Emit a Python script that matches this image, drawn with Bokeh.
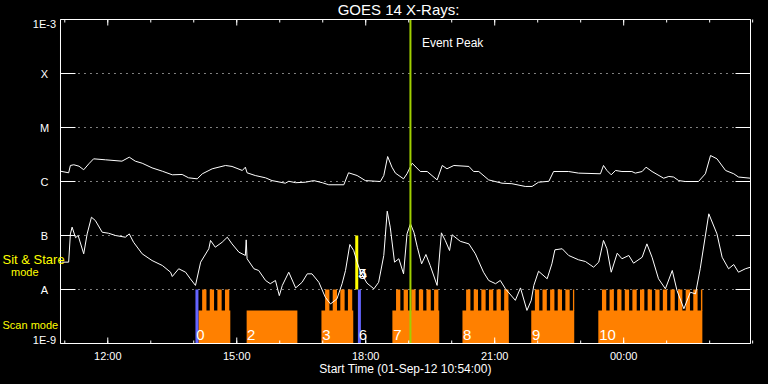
from bokeh.plotting import figure
from bokeh.models import Range1d, Label
from bokeh.embed import file_html
from bokeh.resources import INLINE

# ---------------- data (elapsed hours since 01-Sep-12 10:54:00) ----------------
long_t = [0.00, 0.19, 0.23, 0.31, 0.43, 0.54, 0.66, 0.77, 1.05, 1.43,
          1.60, 1.74, 1.90, 2.13, 2.37, 2.60, 2.83, 2.98, 3.18, 3.30,
          3.53, 3.84, 3.99, 4.23, 4.30, 4.34, 4.53, 4.77, 4.92, 5.23,
          5.31, 5.47, 5.70, 5.89, 6.09, 6.24, 6.59, 6.70, 6.90, 7.09,
          7.44, 7.52, 7.61, 7.71, 7.79, 7.98, 8.06, 8.18, 8.37, 8.53,
          8.76, 8.88, 8.99, 9.15, 9.50, 9.61, 9.73, 9.96, 10.27, 10.50,
          10.81, 10.97, 11.12, 11.36, 11.47, 11.82, 12.05, 12.56, 12.63, 12.71,
          12.81, 12.91, 13.06, 13.29, 13.37, 13.53, 13.62, 13.76, 14.03, 14.15,
          14.26, 14.38, 14.53, 14.84, 15.00, 15.12, 15.27, 15.47, 15.66, 15.77,
          16.05]
long_flux = [1.55e-6, 1.45e-6, 1.98e-6, 2.04e-6, 1.92e-6, 1.65e-6, 2.13e-6, 2.63e-6, 2.52e-6, 2.38e-6,
             2.82e-6, 2.38e-6, 2.18e-6, 1.79e-6, 1.55e-6, 1.33e-6, 1.35e-6, 1.17e-6, 1.12e-6, 1.39e-6,
             1.72e-6, 1.98e-6, 1.90e-6, 1.60e-6, 1.84e-6, 1.45e-6, 1.29e-6, 1.17e-6, 1.04e-6, 9.3e-7,
             1.01e-6, 9.5e-7, 9.7e-7, 1.04e-6, 9.5e-7, 8.7e-7, 8.7e-7, 1.45e-6, 1.29e-6, 1.04e-6,
             1.0e-6, 1.29e-6, 2.90e-6, 1.84e-6, 1.43e-6, 1.12e-6, 1.39e-6, 2.18e-6, 1.53e-6, 1.53e-6,
             1.07e-6, 1.98e-6, 1.72e-6, 1.98e-6, 1.90e-6, 1.53e-6, 1.53e-6, 1.07e-6, 9.3e-7, 9.1e-7,
             8.1e-7, 8.1e-7, 9.7e-7, 1.01e-6, 1.53e-6, 1.53e-6, 1.43e-6, 1.39e-6, 1.98e-6, 1.60e-6,
             1.33e-6, 1.60e-6, 1.53e-6, 1.53e-6, 1.43e-6, 1.53e-6, 1.84e-6, 1.53e-6, 1.15e-6, 1.24e-6,
             1.21e-6, 1.04e-6, 1.0e-6, 1.0e-6, 1.39e-6, 3.03e-6, 2.63e-6, 1.60e-6, 1.39e-6, 1.21e-6,
             1.15e-6]

short_t = [0.02, 0.19, 0.23, 0.27, 0.35, 0.41, 0.54, 0.62, 0.72, 0.81,
           0.97, 1.12, 1.28, 1.51, 1.60, 1.70, 1.90, 2.13, 2.37, 2.56,
           2.60, 2.75, 2.91, 3.02, 3.14, 3.26, 3.45, 3.49, 3.60, 3.76,
           3.88, 3.99, 4.15, 4.30, 4.32, 4.34, 4.50, 4.61, 4.77, 4.88,
           5.00, 5.09, 5.16, 5.31, 5.47, 5.62, 5.74, 5.85, 6.01, 6.16,
           6.28, 6.43, 6.55, 6.63, 6.73, 6.82, 6.90, 6.98, 7.13, 7.29,
           7.40, 7.52, 7.60, 7.67, 7.77, 7.87, 7.98, 8.06, 8.14, 8.22,
           8.30, 8.40, 8.50, 8.60, 8.76, 8.86, 8.95, 9.05, 9.11, 9.30,
           9.50, 9.65, 9.84, 9.96, 10.12, 10.23, 10.35, 10.58, 10.70, 10.85,
           10.95, 11.01, 11.12, 11.32, 11.43, 11.50, 11.67, 11.82, 12.05, 12.21,
           12.40, 12.52, 12.63, 12.71, 12.81, 12.95, 13.06, 13.22, 13.33, 13.53,
           13.64, 13.76, 13.91, 14.07, 14.23, 14.34, 14.50, 14.65, 14.77, 14.88,
           15.08, 15.27, 15.39, 15.54, 15.66, 15.77, 15.93, 16.05]
short_flux = [3.21e-8, 3.21e-8, 1.07e-7, 1.43e-7, 9.1e-8, 1.0e-7, 4.58e-8, 1.07e-7, 2.18e-7, 1.90e-7,
              1.15e-7, 1.10e-7, 1.0e-7, 9.3e-8, 1.07e-7, 7.5e-8, 4.58e-8, 3.44e-8, 2.78e-8, 2.09e-8,
              1.74e-8, 2.42e-8, 2.09e-8, 1.58e-8, 1.19e-8, 3.21e-8, 5.68e-8, 8.1e-8, 6.07e-8, 7.5e-8,
              9.3e-8, 7.0e-8, 4.91e-8, 4.27e-8, 8.3e-8, 3.71e-8, 2.42e-8, 2.25e-8, 1.47e-8, 1.28e-8,
              1.47e-8, 7.7e-9, 1.19e-8, 2.09e-8, 1.07e-8, 1.36e-8, 1.95e-8, 1.95e-8, 1.36e-8, 7.2e-9,
              5.4e-9, 6.7e-9, 1.28e-8, 2.25e-8, 6.81e-8, 5.27e-8, 3.21e-8, 2.09e-8, 1.31e-8, 1.03e-8,
              1.36e-8, 4.27e-8, 2.82e-7, 1.43e-7, 3.21e-8, 3.71e-8, 1.95e-8, 1.07e-7, 1.65e-7, 1.15e-7,
              6.07e-8, 2.99e-8, 4.45e-8, 2.78e-8, 1.19e-8, 1.12e-7, 8.1e-8, 5.27e-8, 1.03e-7, 7.8e-8,
              7.0e-8, 4.58e-8, 2.09e-8, 1.47e-8, 1.28e-8, 1.47e-8, 1.03e-8, 6.3e-9, 1.07e-8, 4.1e-9,
              6.3e-9, 1.19e-8, 2.18e-8, 1.58e-8, 2.99e-8, 5.43e-8, 5.68e-8, 4.27e-8, 3.55e-8, 3.30e-8,
              2.59e-8, 3.21e-8, 8.1e-8, 5.68e-8, 2.09e-8, 4.70e-8, 3.71e-8, 4.27e-8, 3.07e-8, 3.96e-8,
              7.0e-8, 3.96e-8, 1.58e-8, 1.03e-8, 2.25e-8, 9.6e-9, 4.4e-9, 8.9e-9, 8.3e-9, 2.42e-8,
              2.52e-7, 1.07e-7, 3.96e-8, 2.42e-8, 2.90e-8, 2.09e-8, 2.42e-8, 2.59e-8]

# scan-mode rasters (with teeth) and the plain scan block
scan_start = [3.21, 6.07, 7.72, 9.35, 10.95, 12.51]
scan_end = [3.95, 6.81, 8.81, 10.43, 11.95, 14.93]
plain_start = [4.33]
plain_end = [5.51]
tooth_gap = 0.085
tooth_period = 0.177
tooth_width = 0.10

scan_labels = ["0", "2", "3", "6", "7", "8", "9", "10"]
scan_label_t = [3.16, 4.34, 6.09, 6.94, 7.74, 9.36, 10.97, 12.53]
stare_labels = ["4", "5"]
stare_label_t = 6.93

blue_t = [3.174, 6.953]
yellow_t = [6.891]
peak_t = 8.14

x_major = [1.1, 4.1, 7.1, 10.1, 13.1]
x_minor = [0.1 + k for k in range(17)]
x_tick_labels = ["12:00", "15:00", "18:00", "21:00", "00:00"]
y_ticks = [1e-9, 1e-8, 1e-7, 1e-6, 1e-5, 1e-4, 1e-3]
y_tick_labels = ["1E-9", "A", "B", "C", "M", "X", "1E-3"]

# ---------------- layout constants ----------------
T0, T1 = 0.0, 16.05          # time span of the plot box (hours)
Y0, Y1 = 1e-9, 1e-3          # flux span of the plot box
PXH = 43.0                   # pixels per hour
PXD = 54.0                   # pixels per decade
PAD_L, PAD_R, PAD_T, PAD_B = 60, 18, 19, 41
BASE_FIX = 0.33              # text baseline correction (fraction of font size)

def dx(px):                  # pixel length -> hours
    return px / PXH

def fy(v, px):               # move a flux value by px pixels (up = +)
    return v * 10 ** (px / PXD)

FONT = "Liberation Sans"
ORANGE = "#ff8000"
W = "white"

p = figure(width=768, height=384, output_backend="svg", toolbar_location=None,
           x_range=Range1d(T0 - dx(PAD_L), T1 + dx(PAD_R)),
           y_range=Range1d(fy(Y0, -PAD_B), fy(Y1, PAD_T)),
           y_axis_type="log", min_border=0,
           background_fill_color="black", border_fill_color="black",
           outline_line_color=None)
p.xaxis.visible = False
p.yaxis.visible = False
p.xgrid.grid_line_color = None
p.ygrid.grid_line_color = None

# dotted class grid
grid = y_ticks[1:-1]
p.segment(x0=[T0] * len(grid), x1=[T1] * len(grid), y0=grid, y1=grid,
          line_color=W, line_width=1, line_dash="1 5")

# scan blocks: lower solid part
p.quad(left=scan_start + plain_start, right=scan_end + plain_end,
       bottom=Y0, top=4.08e-9, fill_color=ORANGE, line_color=None)
# teeth
tl, tr = [], []
for s, e in zip(scan_start, scan_end):
    x = s + tooth_gap
    while x < e - 0.02:
        tl.append(x)
        tr.append(min(x + tooth_width, e))
        x += tooth_period
p.quad(left=tl, right=tr, bottom=4.0e-9, top=1e-8, fill_color=ORANGE, line_color=None)

# vertical markers
p.segment(x0=blue_t, x1=blue_t, y0=Y0, y1=1e-8, line_color="#6464ff", line_width=3)
p.segment(x0=yellow_t, x1=yellow_t, y0=1e-8, y1=1e-7, line_color="#ffff00", line_width=3)

# GOES curves
p.line(long_t, long_flux, line_color=W, line_width=1)
p.line(short_t, short_flux, line_color=W, line_width=1)

p.segment(x0=[peak_t], x1=[peak_t], y0=Y0, y1=Y1, line_color="#a0d000", line_width=2)

# plot box
p.quad(left=[T0], right=[T1], bottom=[Y0], top=[Y1], fill_color=None, line_color=W, line_width=1)

# y ticks (inward, left and right)
n = len(y_ticks)
p.segment(x0=[T0] * n, x1=[T0 + dx(15)] * n, y0=y_ticks, y1=y_ticks, line_color=W, line_width=1)
p.segment(x0=[T1 - dx(15)] * n, x1=[T1] * n, y0=y_ticks, y1=y_ticks, line_color=W, line_width=1)
# x ticks (inward, bottom and top)
for ticks, ln in ((x_major, 6), (x_minor, 3)):
    m = len(ticks)
    p.segment(x0=ticks, x1=ticks, y0=[Y0] * m, y1=[fy(Y0, ln)] * m, line_color=W, line_width=1)
    p.segment(x0=ticks, x1=ticks, y0=[Y1] * m, y1=[fy(Y1, -ln)] * m, line_color=W, line_width=1)

# ---------------- texts ----------------
def lab(x, y, text, size, color=W, align="left"):
    p.add_layout(Label(x=x, y=fy(y, BASE_FIX * size), text=text, text_color=color,
                       text_font=FONT, text_font_size=f"{size}px",
                       text_align=align, text_baseline="alphabetic"))

for t, s in zip(x_major, x_tick_labels):
    lab(t, fy(Y0, -16.5), s, 11, align="center")

for i, (v, s) in enumerate(zip(y_ticks, y_tick_labels)):
    if i == 0:
        lab(T0 - dx(16), v, s, 11, align="center")
    elif i == n - 1:
        lab(T0 - dx(16), fy(v, -7.7), s, 11, align="center")
    else:
        lab(T0 - dx(16), fy(v, -4.2), s, 11, align="center")

for t, s in zip(scan_label_t, scan_labels):
    lab(t, 1.17e-9, s, 15)
for s in stare_labels:
    lab(stare_label_t, 1.60e-8, s, 15)

lab(T0 - dx(58), 3.03e-8, "Sit & Stare", 13, color="#ffff00")
lab(T0 - dx(49.5), 1.82e-8, "mode", 11, color="#ffff00")
lab(T0 - dx(58), 1.90e-9, "Scan mode", 11, color="#ffff00")

lab(T0 + dx(399), fy(Y1, 5), "GOES 14 X-Rays:", 15, align="right")
lab(peak_t + dx(11.5), 3.07e-4, "Event Peak", 12)
lab((T0 + T1) / 2, fy(Y0, -29), "Start Time (01-Sep-12 10:54:00)", 12, align="center")

html = file_html(p, INLINE)
html = html.replace("</head>", "<style>html,body{background:#000000;}</style></head>", 1)
open("out.html", "w").write(html)
